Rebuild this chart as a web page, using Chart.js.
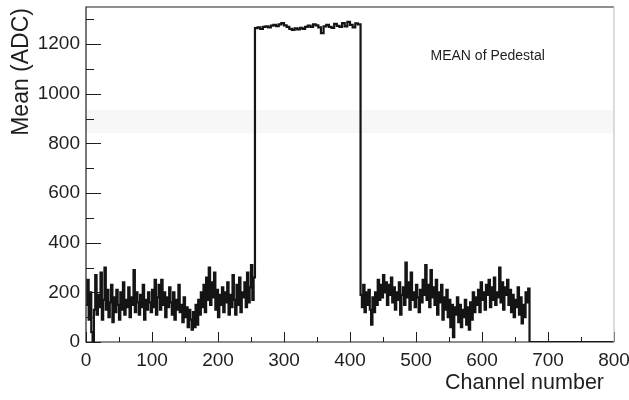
<!DOCTYPE html>
<html>
<head>
<meta charset="utf-8">
<script src="https://cdn.jsdelivr.net/npm/chart.js@4/dist/chart.umd.min.js"></script>
<style>
  html, body { margin: 0; padding: 0; background: #fff; }
</style>
</head>
<body>
<canvas id="pedestal" width="629" height="400"></canvas>
<script>
// channels 0-254, one value per 2 channels
const lowBinsA = [
  150, 250, 90, 200, 40, 0, 130, 270,
  110, 190, 140, 280, 90, 170, 300, 130,
  210, 100, 160, 230, 80, 180, 120, 210,
  150, 90, 200, 130, 240, 110, 170, 140,
  220, 100, 180, 150, 290, 120, 200, 160,
  110, 190, 140, 230, 90, 170, 130, 200,
  160, 120, 210, 140, 250, 110, 180, 230,
  130, 250, 150, 200, 100, 180, 140, 220,
  160, 110, 200, 90, 170, 130, 230, 120,
  150, 80, 180, 100, 140, 60, 130, 90,
  50, 120, 60, 150, 70, 170, 110, 200,
  140, 230, 120, 260, 170, 300, 150, 240,
  180, 280, 130, 210, 100, 190, 150, 220,
  120, 200, 160, 240, 110, 190, 140, 270,
  170, 110, 230, 150, 260, 120, 200, 180,
  240, 140, 280, 160, 220, 310, 170, 260
];
// channels 256-412, one value per 4 channels
const highBins = [
  1265, 1268, 1262, 1270, 1272, 1268, 1275, 1278,
  1273, 1280, 1285, 1276, 1270, 1262, 1258, 1264,
  1260, 1266, 1262, 1270, 1275, 1270, 1280, 1276,
  1268, 1245, 1272, 1278, 1270, 1266, 1282, 1274,
  1270, 1285, 1272, 1290, 1278, 1268, 1284, 1280
];
// channels 416-670, one value per 2 channels
const lowBinsB = [
  190, 140, 230, 120, 200, 150, 210, 130,
  70, 180, 120, 200, 150, 250, 170, 230,
  180, 270, 200, 240, 150, 230, 190, 260,
  160, 220, 130, 200, 170, 240, 110, 190,
  220, 150, 320, 180, 240, 130, 280, 170,
  200, 140, 230, 180, 120, 210, 160, 250,
  190, 310, 170, 230, 140, 290, 180, 220,
  150, 250, 110, 200, 160, 230, 90, 180,
  130, 210, 100, 170, 60, 150, 20, 140,
  110, 180, 80, 150, 60, 130, 100, 170,
  70, 140, 50, 160, 90, 200, 120, 180,
  150, 210, 120, 240, 170, 200, 130, 230,
  190, 250, 140, 220, 170, 260, 150, 200,
  180, 300, 160, 240, 130, 220, 190, 250,
  150, 210, 120, 190, 100, 170, 140, 220,
  110, 180, 75, 150, 100, 200, 160, 215
];
const deadStart = 672;
const lastChannel = 800;

const points = [];
function addBins(values, start, width) {
  values.forEach((v, i) => points.push({ x: start + i * width, y: v }));
}
addBins(lowBinsA, 0, 2);
addBins(highBins, 256, 4);
addBins(lowBinsB, 416, 2);
points.push({ x: deadStart, y: 0 });
points.push({ x: lastChannel, y: 0 });

const FONT = "'Liberation Sans', Arial, Helvetica, sans-serif";
const TXT = "#1e1e1e";

const rootFrame = {
  id: "rootFrame",
  beforeDatasetsDraw(chart) {
    const { ctx, chartArea: a, scales: { y } } = chart;
    // faint band seen in the original scan
    ctx.save();
    ctx.fillStyle = "#f7f7f7";
    const y1 = y.getPixelForValue(935), y2 = y.getPixelForValue(842);
    ctx.fillRect(a.left, y1, a.right - a.left, y2 - y1);
    ctx.restore();
  },
  afterDatasetsDraw(chart) {
    const { ctx, chartArea: a, scales: { x, y } } = chart;
    ctx.save();
    ctx.strokeStyle = "#1e1e1e";
    ctx.lineWidth = 1;
    ctx.beginPath();
    for (let v = 0; v <= 800; v += 50) {
      const px = Math.round(x.getPixelForValue(v)) + 0.5;
      const len = v % 100 === 0 ? 10 : 5;
      ctx.moveTo(px, a.bottom);
      ctx.lineTo(px, a.bottom - len);
    }
    for (let v = 0; v <= 1300; v += 100) {
      const py = Math.round(y.getPixelForValue(v)) + 0.5;
      const len = v % 200 === 0 ? 15 : 8;
      ctx.moveTo(a.left, py);
      ctx.lineTo(a.left + len, py);
    }
    ctx.stroke();

    // frame
    ctx.lineWidth = 1.2;
    ctx.beginPath();
    ctx.moveTo(a.right, a.top);
    ctx.lineTo(a.left, a.top);
    ctx.lineTo(a.left, a.bottom);
    ctx.lineTo(a.right, a.bottom);
    ctx.stroke();
    ctx.strokeStyle = "#c4c4c4";
    ctx.beginPath();
    ctx.moveTo(a.right, a.top);
    ctx.lineTo(a.right, a.bottom);
    ctx.stroke();

    ctx.fillStyle = TXT;
    ctx.font = "14px " + FONT;
    ctx.textAlign = "left";
    ctx.textBaseline = "middle";
    ctx.fillText("MEAN of Pedestal", x.getPixelForValue(522), y.getPixelForValue(1150));
    ctx.restore();
  },
  afterDraw(chart) {
    const { ctx, chartArea: a } = chart;
    ctx.save();
    ctx.fillStyle = TXT;
    ctx.font = "21.5px " + FONT;
    ctx.textBaseline = "middle";
    ctx.textAlign = "right";
    ctx.fillText("Channel number", a.right - 10, 383);
    ctx.font = "23px " + FONT;
    ctx.translate(22, a.top + 1);
    ctx.rotate(-Math.PI / 2);
    ctx.fillText("Mean (ADC)", 0, 0);
    ctx.restore();
  }
};

function noEdgePadding(s) {
  s.paddingTop = 0;
  s.paddingBottom = 0;
  s.paddingLeft = 0;
  s.paddingRight = 0;
}

new Chart(document.getElementById("pedestal"), {
  type: "line",
  data: {
    datasets: [{
      data: points,
      stepped: true,
      borderColor: "#141414",
      borderWidth: 2.2,
      pointRadius: 0,
      fill: false
    }]
  },
  options: {
    responsive: false,
    animation: false,
    devicePixelRatio: 1,
    layout: { padding: { top: 7, right: 15, left: 0, bottom: 0 } },
    plugins: { legend: { display: false }, tooltip: { enabled: false } },
    scales: {
      x: {
        type: "linear",
        min: 0,
        max: 800,
        grid: { display: false, drawTicks: false },
        border: { display: false },
        ticks: { stepSize: 100, padding: 7, color: TXT, font: { family: FONT, size: 19 }, maxRotation: 0,
                 callback: v => String(v) },
        afterFit(s) { s.height = 58; noEdgePadding(s); }
      },
      y: {
        min: 0,
        max: 1350,
        grid: { display: false, drawTicks: false },
        border: { display: false },
        ticks: { stepSize: 200, includeBounds: false, padding: 6, color: TXT, font: { family: FONT, size: 19 },
                 callback: v => String(v) },
        afterFit(s) { s.width = 86; noEdgePadding(s); }
      }
    }
  },
  plugins: [rootFrame]
});
</script>
</body>
</html>
